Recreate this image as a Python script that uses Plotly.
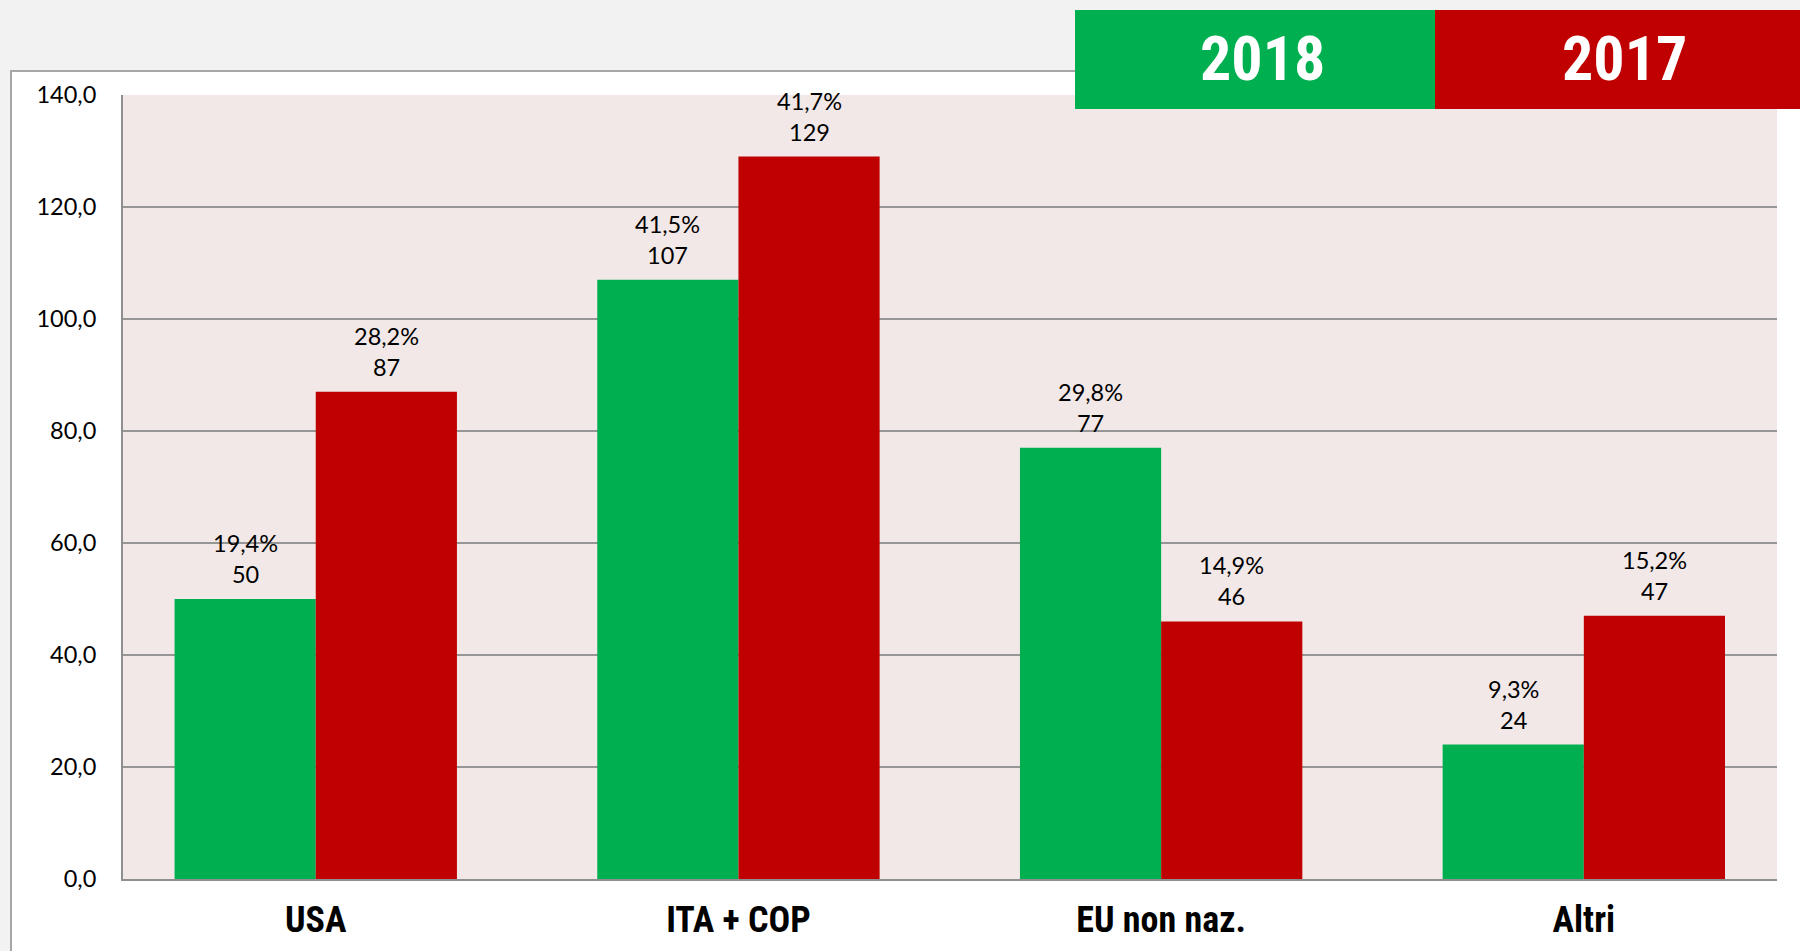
import plotly.graph_objects as go

categories = ["USA", "ITA + COP", "EU non naz.", "Altri"]
series_names = ["2018", "2017"]
values_2018 = [50, 107, 77, 24]
values_2017 = [87, 129, 46, 47]
pct_2018 = [19.4, 41.5, 29.8, 9.3]
pct_2017 = [28.2, 41.7, 14.9, 15.2]
y_ticks = [0, 20, 40, 60, 80, 100, 120, 140]

GREEN = "#00b050"
RED = "#c00000"
BODY_FONT = "Lato, Carlito, 'Open Sans', sans-serif"
BOLD_NARROW = "'Roboto Condensed', 'Liberation Sans Narrow', 'DejaVu Sans Condensed', sans-serif"

W, H = 1800, 951
L, R, T, B = 123, 23, 95, 72
PW, PH = W - L - R, H - T - B


def px_x(p):
    return (p - L) / PW


def px_y(p):
    return (H - B - p) / PH


xs = list(range(len(categories)))
BARGAP = 0.332
half = (1 - BARGAP) / 4

fig = go.Figure()
fig.add_trace(go.Bar(x=xs, y=values_2018, name=series_names[0], marker_color=GREEN,
                     marker_line_width=0, hoverinfo="skip"))
fig.add_trace(go.Bar(x=xs, y=values_2017, name=series_names[1], marker_color=RED,
                     marker_line_width=0, hoverinfo="skip"))


def fmt_pct(v):
    return f"{v:.1f}".replace(".", ",") + "%"


annotations = []
for vals, pcts, sign in ((values_2018, pct_2018, -1), (values_2017, pct_2017, 1)):
    for i, (v, p) in enumerate(zip(vals, pcts)):
        annotations.append(dict(
            x=i + sign * half, y=v, xref="x", yref="y",
            text=f"{fmt_pct(p)}<br>{v}", showarrow=False,
            yanchor="bottom", yshift=9,
            font=dict(family=BODY_FONT, size=23.5, color="#000000"),
        ))

# legend boxes (top right)
legend_boxes = [(1075, 1435, GREEN), (1435, 1800, RED)]
shapes = [
    # outer white frame
    dict(type="rect", xref="paper", yref="paper", layer="below",
         x0=px_x(11), x1=px_x(1830), y0=px_y(990), y1=px_y(71),
         fillcolor="#ffffff", line=dict(color="#a6a6a6", width=2)),
    # plot area background
    dict(type="rect", xref="paper", yref="paper", layer="below",
         x0=0, x1=1, y0=0, y1=1, fillcolor="#f2e8e8", line=dict(width=0)),
]
for (x0, x1, col), name in zip(legend_boxes, series_names):
    shapes.append(dict(type="rect", xref="paper", yref="paper", layer="above",
                       x0=px_x(x0), x1=px_x(x1), y0=px_y(109), y1=px_y(10),
                       fillcolor=col, line=dict(width=0)))
    annotations.append(dict(
        x=px_x((x0 + x1) / 2 + 7), y=px_y(58), xref="paper", yref="paper",
        text=f"<b>{name}</b>", showarrow=False, xanchor="center", yanchor="middle",
        font=dict(family=BOLD_NARROW, size=62, color="#ffffff"),
    ))

fig.update_layout(
    width=W, height=H,
    margin=dict(l=L, r=R, t=T, b=B, pad=0),
    paper_bgcolor="#f2f2f2",
    plot_bgcolor="rgba(0,0,0,0)",
    barmode="group", bargap=BARGAP, bargroupgap=0,
    showlegend=False,
    separators=",.",
    shapes=shapes,
    annotations=annotations,
    xaxis=dict(
        range=[-0.456, 3.457], tickmode="array", tickvals=xs,
        ticktext=[f"<b>{c}</b>" for c in categories],
        showgrid=False, zeroline=False, automargin=False,
        showline=True, linecolor="#8f8f8f", linewidth=2,
        ticks="", ticklabelstandoff=8,
        tickfont=dict(family=BOLD_NARROW, size=36, color="#000000"),
        fixedrange=True,
    ),
    yaxis=dict(
        range=[0, 140], tickmode="array", tickvals=y_ticks, tickformat=".1f",
        showgrid=True, gridcolor="#969696", gridwidth=2, automargin=False,
        zeroline=False, showline=True, linecolor="#8f8f8f", linewidth=2,
        ticks="", ticklabelstandoff=20,
        tickfont=dict(family=BODY_FONT, size=23.5, color="#000000"),
        fixedrange=True,
    ),
)

fig.write_html("out.html", config={"displayModeBar": False},
               post_script="document.body.style.margin='0px';")
